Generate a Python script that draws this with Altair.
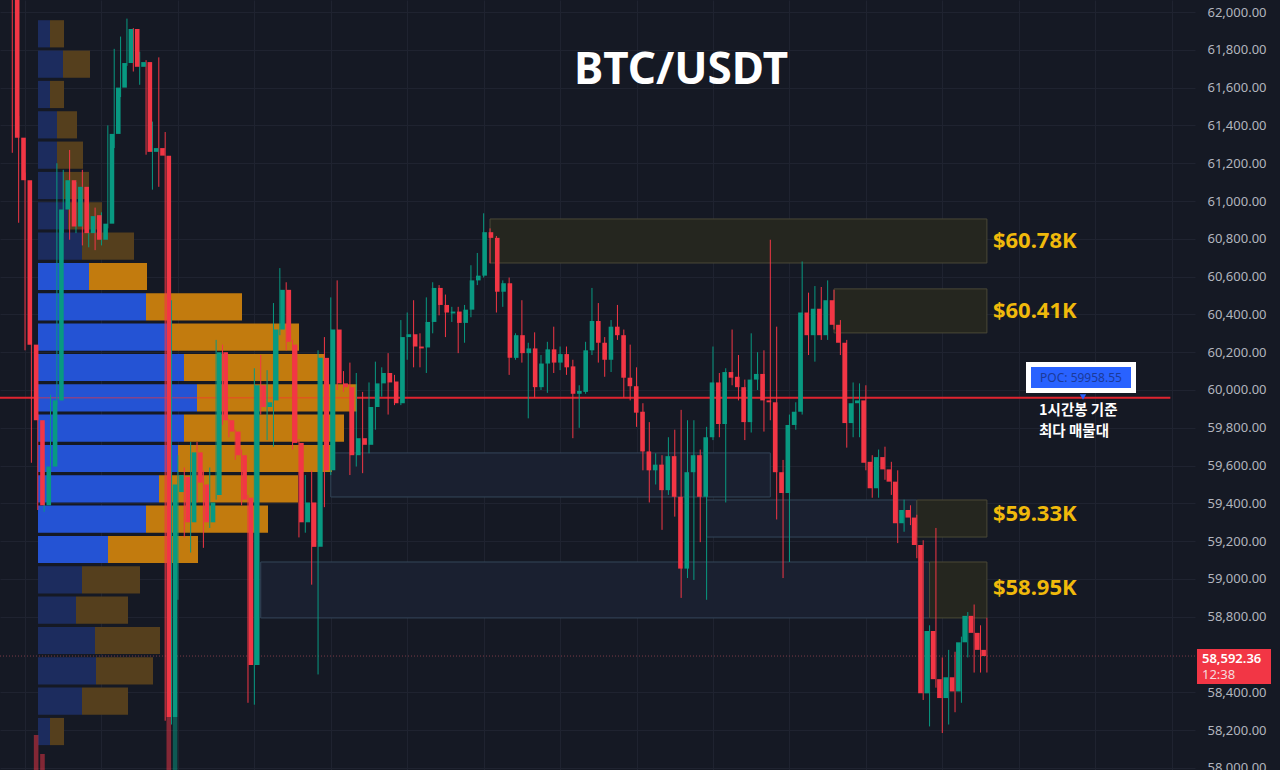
import altair as alt
import pandas as pd
import numpy as np

# ---------------- 1h candles ----------------
opens = [62150, 61335, 61110, 60240, 59840, 59390, 59595, 59945, 60955, 61110,
         60865, 61075, 60830, 60925, 60795, 60880, 61355, 61600, 61730, 61910,
         61710, 61735, 61260, 61280, 61240, 58270, 59460, 59540, 59300, 59670,
         59500, 59300, 59445, 60200, 59840, 59780, 59655, 59430, 58545, 60025,
         59910, 59945, 60320, 60530, 60240, 59720, 59300, 59405, 59170, 60170,
         59575, 60320, 60035, 60015, 59655, 59745, 59710, 59910, 60035, 60090,
         60045, 59930, 60280, 60295, 60230, 60225, 60360, 60540, 60450, 60405,
         60415, 60355, 60425, 60580, 60605, 60835, 60805, 60520, 60565, 60170,
         60290, 60195, 60220, 60015, 60140, 60215, 60145, 60190, 60125, 59980,
         59990, 60210, 60365, 60250, 60160, 60335, 60290, 60065, 60020, 59885,
         59675, 59575, 59605, 59470, 59650, 59435, 59055, 59565, 59655, 59435,
         59750, 60040, 59820, 60095, 60070, 60015, 59830, 60055, 60085, 59945,
         59935, 59565, 59455, 59815, 59885, 60410, 60290, 60430, 60290, 60475,
         60345, 60250, 59825, 59930, 59945, 59620, 59480, 59645, 59580, 59515,
         59295, 59365, 59325, 59180, 58395, 58725, 58470, 58370, 58480, 58405,
         58665, 58805, 58715, 58625]
highs = [62250, 61450, 61150, 60670, 59870, 59630, 59975, 61200, 61165, 61270,
         61100, 61165, 60985, 60965, 60940, 61400, 61805, 61870, 61965, 61915,
         61790, 61745, 61420, 61760, 61365, 60475, 59655, 59590, 59725, 59725,
         59575, 59590, 60265, 60240, 59845, 59790, 59685, 59445, 60115, 60185,
         60105, 60460, 60645, 60570, 60265, 59740, 59550, 59575, 60210, 60280,
         60490, 60580, 60100, 60145, 60090, 59990, 60040, 60150, 60120, 60195,
         60080, 60370, 60410, 60475, 60300, 60490, 60570, 60555, 60505, 60440,
         60440, 60450, 60660, 60725, 60935, 60855, 60815, 60580, 60595, 60300,
         60475, 60250, 60305, 60185, 60255, 60335, 60230, 60230, 60160, 60025,
         60255, 60540, 60460, 60280, 60370, 60450, 60320, 60240, 60120, 59930,
         59830, 59665, 59655, 59750, 59790, 59895, 59840, 59840, 59685, 59805,
         60230, 60090, 60115, 60320, 60185, 60055, 60300, 60200, 60210, 60795,
         60335, 59630, 59870, 59935, 60680, 60515, 60550, 60545, 60580, 60530,
         60370, 60265, 60040, 60035, 60025, 59655, 59685, 59700, 59620, 59575,
         59420, 59390, 59340, 59205, 58755, 59270, 58585, 58625, 58615, 58695,
         58825, 58865, 58755, 58795]
lows = [61255, 60885, 60210, 59615, 59365, 59355, 59550, 59920, 60830, 60795,
        60830, 60765, 60755, 60740, 60765, 60855, 61280, 61550, 61715, 61685,
        61615, 61245, 61060, 61075, 58250, 58230, 58890, 59220, 59140, 59405,
        59165, 59270, 59420, 59815, 59750, 59630, 59390, 58345, 58335, 59870,
        59735, 59700, 60290, 60210, 59685, 59220, 59245, 58970, 58495, 59380,
        59550, 60000, 59990, 59550, 59595, 59560, 59665, 59790, 59965, 59870,
        59920, 59920, 60160, 60120, 60120, 60090, 60300, 60395, 60280, 60360,
        60195, 60250, 60385, 60555, 60595, 60670, 60410, 60440, 60080, 60160,
        60145, 59850, 59960, 60000, 59985, 60090, 60105, 60080, 59745, 59800,
        59980, 60185, 60145, 60070, 60095, 60265, 59960, 59945, 59805, 59575,
        59405, 59500, 59260, 59445, 59330, 58900, 59005, 58995, 59195, 58890,
        59735, 59750, 59405, 60025, 59945, 59735, 59775, 60000, 59780, 59840,
        59315, 59005, 59090, 59790, 59870, 60185, 60150, 60265, 60265, 60320,
        60185, 59695, 59750, 59750, 59575, 59430, 59430, 59525, 59445, 59190,
        59250, 59285, 59110, 58360, 58220, 58425, 58185, 58230, 58295, 58345,
        58585, 58505, 58505, 58505]
closes = [61335, 61110, 60240, 59840, 59390, 59595, 59945, 60955, 61110, 60865,
          61075, 60830, 60920, 60795, 60880, 61355, 61600, 61730, 61910, 61710,
          61735, 61260, 61280, 61240, 58270, 59500, 59550, 59300, 59670, 59510,
          59300, 59405, 60200, 59840, 59780, 59655, 59420, 58545, 60025, 59910,
          59935, 60320, 60530, 60255, 59720, 59300, 59405, 59170, 60170, 59575,
          60320, 60035, 60015, 59655, 59745, 59710, 59910, 60035, 60090, 60040,
          59930, 60280, 60295, 60230, 60220, 60360, 60540, 60450, 60410, 60415,
          60355, 60425, 60580, 60605, 60835, 60805, 60520, 60565, 60170, 60290,
          60195, 60220, 60015, 60140, 60215, 60145, 60190, 60120, 59980, 59995,
          60210, 60365, 60250, 60160, 60335, 60290, 60065, 60020, 59880, 59675,
          59575, 59605, 59470, 59650, 59435, 59055, 59565, 59655, 59435, 59750,
          60040, 59820, 60095, 60065, 60015, 59830, 60055, 60085, 59945, 59935,
          59565, 59455, 59815, 59885, 60410, 60290, 60430, 60290, 60475, 60345,
          60250, 59825, 59930, 59945, 59615, 59480, 59645, 59580, 59515, 59295,
          59365, 59325, 59180, 58395, 58725, 58470, 58370, 58480, 58405, 58665,
          58805, 58715, 58625, 58592.36]

# volume bars that rise above the bottom edge (thousand BTC)
vol_idx = [3, 4, 24, 25]
vol_k = [3.5, 1.6, 5.3, 5.3]

# ---------------- visible-range volume profile ----------------
vp_price = [61884.6, 61724.0, 61563.6, 61403.0, 61242.6, 61082.0, 60921.6, 60761.0,
            60600.6, 60440.0, 60279.6, 60119.0, 59958.6, 59798.0, 59637.6, 59477.0,
            59316.6, 59156.0, 58995.6, 58835.0, 58674.6, 58514.0, 58353.6, 58193.0]
vp_up = [12, 25, 12, 19, 19, 25, 30, 44, 51, 108, 134, 146, 159, 146, 140, 121,
         108, 70, 44, 38, 57, 58, 44, 12]
vp_down = [14, 27, 14, 20, 26, 26, 34, 52, 58, 96, 127, 141, 160, 160, 154, 139,
           122, 90, 58, 52, 65, 57, 46, 14]
VA_HIGH = 60600.6
VA_LOW = 59156.0
POC = 59958.55

# ---------------- zones ----------------
zone_x1 = [75, 129, 109, 142, 39, 144, 50]
zone_x2 = [153, 153, 142, 153, 144, 153, 119]
zone_lo = [60672, 60302, 59222, 59222, 58794, 58794, 59434]
zone_hi = [60905, 60535, 59418, 59418, 59090, 59090, 59667]
zone_kind = ["key", "key", "range", "key", "range", "key", "range"]

label_text = ["$60.78K", "$60.41K", "$59.33K", "$58.95K"]
label_price = [60788, 60418, 59345, 58955]
label_at = [153, 153, 153, 153]

LAST = 58592.36
# 58,600 is hidden behind the last-price tag on the price scale
price_ticks = [p for p in range(58000, 62001, 200) if p != 58600]
grid_idx = list(range(2, 186, 12))

# ---------------- styles ----------------
BG = "#151924"
GRID = "#1f2330"
GREEN = "#089981"
RED = "#f23645"
AXIS_TXT = "#b2b5be"

xs = alt.Scale(domain=[-1.93, 185.67], nice=False, zero=False)
ys = alt.Scale(domain=[57989.4, 62063.5], nice=False, zero=False)
pxs = alt.Scale(domain=[-38, 1157], nice=False, zero=False)
vys = alt.Scale(domain=[0, 77], nice=False, zero=False)

cdf = pd.DataFrame({"i": list(range(len(opens))), "open": opens, "high": highs,
                    "low": lows, "close": closes})
cdf["col"] = np.where(cdf["close"] >= cdf["open"], GREEN, RED)

vdf = pd.DataFrame({"i": vol_idx, "v": vol_k})
vdf["z"] = 0
vdf["col"] = [RED if closes[k] < opens[k] else GREEN for k in vol_idx]

vp = pd.DataFrame({"price": vp_price, "up": vp_up, "down": vp_down})
vp["lo"] = vp["price"] - 72
vp["hi"] = vp["price"] + 72
vp["z"] = 0
vp["tot"] = vp["up"] + vp["down"]
in_va = (vp["price"] >= VA_LOW - 1) & (vp["price"] <= VA_HIGH + 1)
vp["cu"] = np.where(in_va, "#2453d4", "#1c2c5e")
vp["cd"] = np.where(in_va, "#c27b0e", "#553f1d")
poc_row = vp[(vp["price"] - POC).abs() < 5].copy()
poc_row["y"] = POC

zdf = pd.DataFrame({"x1": zone_x1, "x2": zone_x2, "lo": zone_lo, "hi": zone_hi,
                    "kind": zone_kind})
zdf["fill"] = np.where(zdf["kind"] == "key", "#25261f", "#1a2030")
zdf["stroke"] = np.where(zdf["kind"] == "key", "#4a4937", "#34465a")

ldf = pd.DataFrame({"x": label_at, "y": label_price, "t": label_text})

one = pd.DataFrame({"a": [0]})

def X(f, **kw):
    return alt.X(f, type="quantitative", scale=xs, axis=None, **kw)

def Y(f, **kw):
    return alt.Y(f, type="quantitative", scale=ys, axis=None, **kw)

zones = alt.Chart(zdf).mark_rect(strokeWidth=1).encode(
    x=X("x1"), x2="x2", y=Y("lo"), y2="hi",
    fill=alt.Fill("fill:N", scale=None), stroke=alt.Stroke("stroke:N", scale=None))

poc_line = alt.Chart(pd.DataFrame({"x1": [-1.93], "x2": [181.8], "y": [POC]})).mark_rule(
    color="#e0242f", strokeWidth=2).encode(x=X("x1"), x2="x2", y=Y("y"))

prof_up = alt.Chart(vp).mark_rect().encode(
    x=alt.X("z:Q", scale=pxs, axis=None), x2="up:Q", y=Y("lo"), y2="hi",
    color=alt.Color("cu:N", scale=None))
prof_dn = alt.Chart(vp).mark_rect().encode(
    x=alt.X("up:Q", scale=pxs, axis=None), x2="tot:Q", y=Y("lo"), y2="hi",
    color=alt.Color("cd:N", scale=None))
prof_poc = alt.Chart(poc_row).mark_rule(color="#ff3030", strokeWidth=1.5, opacity=0.45).encode(
    x=alt.X("z:Q", scale=pxs, axis=None), x2="tot:Q", y=Y("y"))

vol = alt.Chart(vdf).mark_bar(size=4.6, opacity=0.5).encode(
    x=X("i"), y=alt.Y("z:Q", scale=vys, axis=None), y2="v:Q",
    color=alt.Color("col:N", scale=None))

last_line = alt.Chart(pd.DataFrame({"y": [LAST]})).mark_rule(
    color="#7a3a47", strokeWidth=1, strokeDash=[1, 2]).encode(y=Y("y"))

wicks = alt.Chart(cdf).mark_rule(strokeWidth=1, clip=True).encode(
    x=alt.X("i:Q", scale=xs, axis=alt.Axis(values=grid_idx, grid=True, labels=False,
            ticks=False, domain=False, title=None, gridColor=GRID, gridWidth=1)),
    y=alt.Y("low:Q", scale=ys, axis=alt.Axis(orient="right", values=price_ticks,
            format=",.2f", grid=True, gridColor=GRID, ticks=False, domain=False,
            title=None, labelColor=AXIS_TXT, labelFontSize=13, labelFont="Noto Sans",
            labelPadding=12, labelOverlap=False)),
    y2="high:Q",
    color=alt.Color("col:N", scale=None))

bodies = alt.Chart(cdf).mark_bar(size=4.6, clip=True).encode(
    x=X("i"), y=Y("open"), y2="close", color=alt.Color("col:N", scale=None))

labels = alt.Chart(ldf).mark_text(align="left", baseline="middle", dx=6, fontSize=22,
                                  fontWeight="bold", font="Noto Sans", color="#f0b90b").encode(
    x=X("x"), y=Y("y"), text="t:N")

title = alt.Chart(one).mark_text(text="BTC/USDT", fontSize=44, fontWeight="bold",
                                 font="Noto Sans", color="#ffffff", align="center",
                                 baseline="middle").encode(x=alt.value(681), y=alt.value(71))

poc_box_w = alt.Chart(one).mark_rect(color="#ffffff").encode(
    x=alt.value(1026), x2=alt.value(1136), y=alt.value(362), y2=alt.value(393))
poc_box_b = alt.Chart(one).mark_rect(color="#2962ff").encode(
    x=alt.value(1031), x2=alt.value(1131), y=alt.value(367), y2=alt.value(388))
poc_txt = alt.Chart(one).mark_text(text="POC: 59958.55", fontSize=12, font="Noto Sans",
                                   color="#1b3a9a", align="center", baseline="middle").encode(
    x=alt.value(1081), y=alt.value(378))
poc_tri = alt.Chart(one).mark_point(shape="triangle-down", filled=True, size=40,
                                    color="#2962ff", opacity=1).encode(
    x=alt.value(1083), y=alt.value(397))
kr1 = alt.Chart(one).mark_text(text="1시간봉 기준", fontSize=14.5, fontWeight="bold",
                               font="Noto Sans CJK KR", color="#ffffff", align="left",
                               baseline="middle").encode(x=alt.value(1039), y=alt.value(411))
kr2 = alt.Chart(one).mark_text(text="최다 매물대", fontSize=14.5, fontWeight="bold",
                               font="Noto Sans CJK KR", color="#ffffff", align="left",
                               baseline="middle").encode(x=alt.value(1039), y=alt.value(432))

tag = alt.Chart(one).mark_rect(color=RED).encode(
    x=alt.value(1197), x2=alt.value(1271), y=alt.value(649), y2=alt.value(684))
tag1 = alt.Chart(one).mark_text(text="58,592.36", fontSize=13, fontWeight=600, font="Noto Sans",
                                color="#ffffff", align="left", baseline="middle").encode(
    x=alt.value(1202), y=alt.value(659))
tag2 = alt.Chart(one).mark_text(text="12:38", fontSize=13, font="Noto Sans",
                                color="#f6dadd", align="left", baseline="middle").encode(
    x=alt.value(1202), y=alt.value(675))

chart = alt.layer(
    zones, poc_line, prof_up, prof_dn, prof_poc, vol, last_line, wicks, bodies,
    labels, title, poc_box_w, poc_box_b, poc_txt, poc_tri, kr1, kr2, tag, tag1, tag2
).resolve_scale(x="independent", y="independent").properties(
    width=1195, height=770,
    autosize=alt.AutoSizeParams(type="none"),
    padding={"left": 0, "top": 0, "right": 85, "bottom": 0},
    background=BG,
).configure_view(stroke=None)

chart.save("out.html", embed_options={"renderer": "svg", "actions": False})
